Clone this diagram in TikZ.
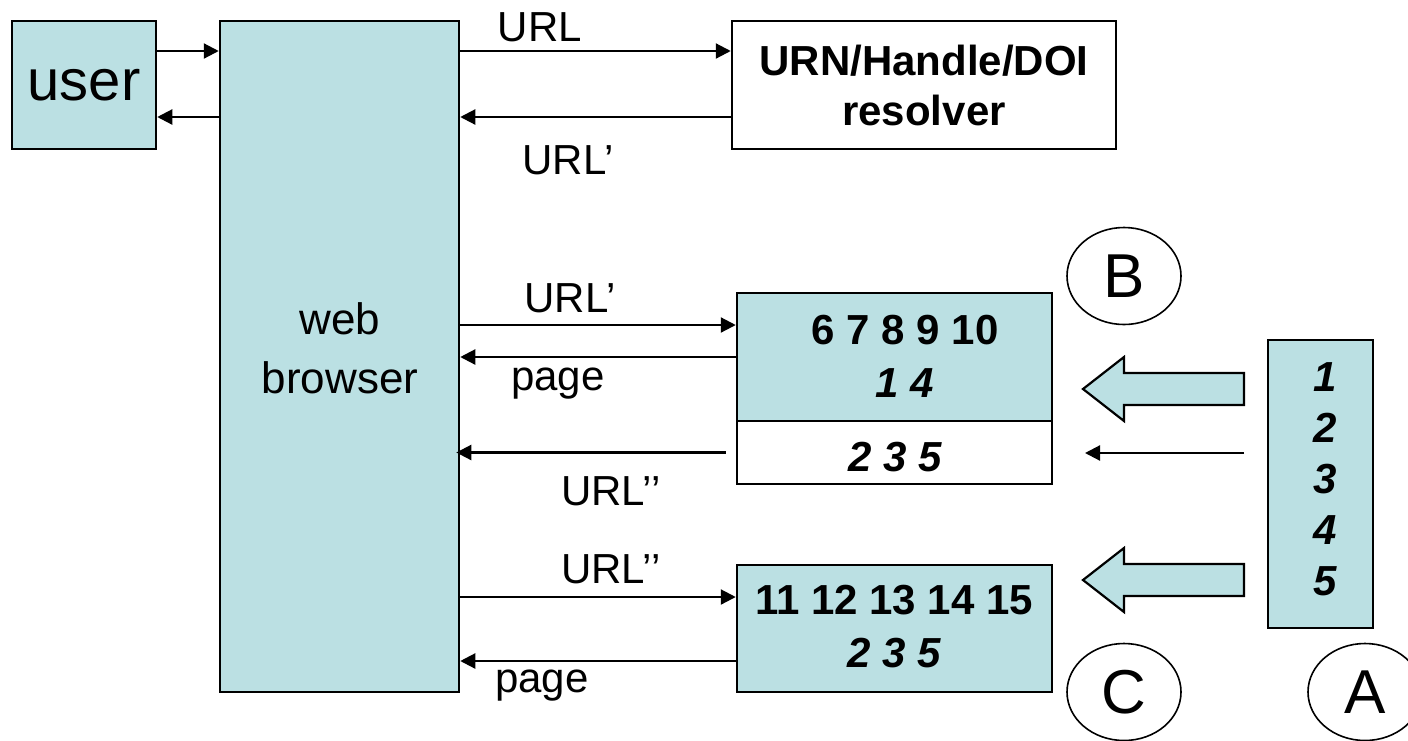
\documentclass[tikz,border=0pt]{standalone}
\usepackage{fontspec}
\setmainfont{Liberation Sans}
\usetikzlibrary{arrows.meta,calc,shapes.geometric}
\definecolor{boxfill}{RGB}{187,224,227}
\begin{document}
\begin{tikzpicture}[x=1pt,y=-1pt,
  box/.style={draw=black,line width=2.5pt,fill=boxfill,inner sep=0pt},
  wbox/.style={draw=black,line width=2.5pt,fill=white,inner sep=0pt},
  arr/.style={line width=2.2pt,-{Triangle[length=15pt,width=15pt]}},
  lbl/.style={font=\fontsize{42}{50}\selectfont,inner sep=0pt},
  num/.style={font=\fontsize{42}{53}\selectfont\bfseries,inner sep=0pt,align=center},
  circ/.style={draw,ellipse,line width=1.6pt,minimum width=114pt,minimum height=97pt,inner sep=0pt,font=\fontsize{62}{62}\selectfont},
  blockarrow/.style={draw=black,line width=2.2pt,fill=boxfill,line join=miter}
]
\useasboundingbox (0,0) rectangle (1408,740);

% boxes
\node[box,minimum width=144pt,minimum height=128pt,font=\fontsize{58}{58}\selectfont] (user) at (84,85) {user};
\node[box,minimum width=239pt,minimum height=671pt] (browser) at (339.5,356.5) {};
\node[lbl,align=center,font=\fontsize{44}{59}\selectfont] (browsertext) at (340,348) {web\\browser};
\node[wbox,minimum width=384pt,minimum height=128pt,font=\fontsize{42}{50}\selectfont\bfseries,align=center] (resolver) at (924,85) {URN/Handle/DOI\\resolver};

\node[box,minimum width=315pt,minimum height=128pt] (boxB) at (894.5,357) {};
\node[wbox,minimum width=315pt,minimum height=63pt] (boxB2) at (894.5,452.5) {};
\node[box,minimum width=315pt,minimum height=127pt] (boxC) at (894.5,628.5) {};
\node[box,minimum width=105pt,minimum height=288pt] (boxA) at (1320.5,484) {};

\node[num] (Btext) at (905,356) {6 7 8 9 10\\\textit{1 4}};
\node[num] (B2text) at (895,457) {\textit{2 3 5}};
\node[num] (Ctext) at (894,627) {11 12 13 14 15\\\textit{2 3 5}};
\node[num,font=\fontsize{42}{51}\selectfont\bfseries\itshape] (Atext) at (1325,479) {1\\2\\3\\4\\5};

% circles
\node[circ] (cB) at (1124,276) {B};
\node[circ] (cC) at (1124,692) {C};
\node[circ] (cA) at (1365,692) {A};

% labels
\node[lbl] (lURL) at (540,27) {URL};
\node[lbl] (lURLp) at (568,160) {URL’};
\node[lbl] (lURLpB) at (570,298) {URL’};
\node[lbl] (lpageB) at (558,384) {page};
\node[lbl] (lURLppB) at (611,491) {URL’’};
\node[lbl] (lURLppC) at (611,569) {URL’’};
\node[lbl] (lpageC) at (542,686) {page};

% connectors
\draw[arr] (user.east |- 0,51) -- (browser.west |- 0,51);
\draw[arr] (browser.west |- 0,117) -- (user.east |- 0,117);
\draw[arr] (browser.east |- 0,51) -- (resolver.west |- 0,51);
\draw[arr] (resolver.west |- 0,117) -- (browser.east |- 0,117);
\draw[arr] (browser.east |- 0,325) -- (boxB.west |- 0,325);
\draw[arr] (boxB.west |- 0,357) -- (browser.east |- 0,357);
\coordinate (b2out) at ([xshift=-10pt]boxB2.west);
\draw[arr] (b2out) -- ([xshift=-4pt]browser.east |- b2out);
\draw[arr] (browser.east |- 0,597) -- (boxC.west |- 0,597);
\draw[arr] (boxC.west |- 0,661) -- (browser.east |- 0,661);

\coordinate (a2tail) at (1244,453);
\coordinate (a2tip) at (1085,453);
\draw[arr] (a2tail) -- (a2tip);

% block arrows
\draw[blockarrow] (1244,373) -- (1124,373) -- (1124,357) -- (1083,389) -- (1124,421) -- (1124,405) -- (1244,405) -- cycle;
\draw[blockarrow] (1244,564) -- (1124,564) -- (1124,548) -- (1083,580) -- (1124,612) -- (1124,596) -- (1244,596) -- cycle;
\end{tikzpicture}
\end{document}
